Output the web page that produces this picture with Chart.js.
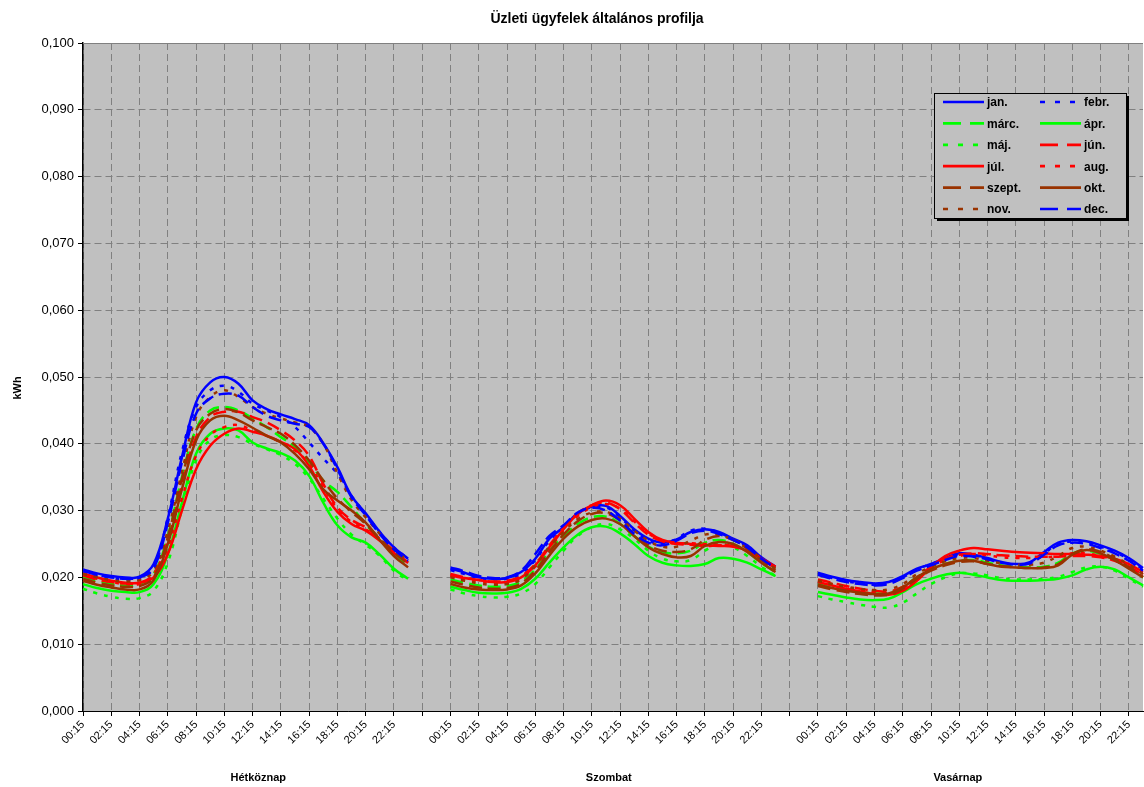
<!DOCTYPE html>
<html>
<head>
<meta charset="utf-8">
<script src="https://cdn.jsdelivr.net/npm/chart.js@4.4.1/dist/chart.umd.min.js"></script>
<style>
    html, body { margin: 0; padding: 0; background: #ffffff; overflow: hidden; }
    canvas { display: block; }
</style>
</head>
<body>
<canvas id="profileChart" width="1144" height="787"></canvas>
<script>
// hourly points for each day: [hétköznap, szombat, vasárnap]
const hours = ["00:15", "01:15", "02:15", "03:15", "04:15", "05:15", "06:15", "07:15", "08:15", "09:15", "10:15", "11:15",
    "12:15", "13:15", "14:15", "15:15", "16:15", "17:15", "18:15", "19:15", "20:15", "21:15", "22:15", "23:15"];
const days = ["Hétköznap", "Szombat", "Vasárnap"];
const yTicks = [0, 0.01, 0.02, 0.03, 0.04, 0.05, 0.06, 0.07, 0.08, 0.09, 0.1];

const jan = [
    [0.0212, 0.0206, 0.0202, 0.0200, 0.0201, 0.0220, 0.0288, 0.0380, 0.0462, 0.0492, 0.0500, 0.0490, 0.0465, 0.0452, 0.0444, 0.0437, 0.0428, 0.0401, 0.0365, 0.0322, 0.0296, 0.0268, 0.0245, 0.0228],
    [0.0213, 0.0207, 0.0200, 0.0198, 0.0199, 0.0208, 0.0228, 0.0258, 0.0275, 0.0296, 0.0306, 0.0307, 0.0292, 0.0272, 0.0258, 0.0252, 0.0257, 0.0268, 0.0272, 0.0268, 0.0258, 0.0248, 0.0230, 0.0216],
    [0.0207, 0.0201, 0.0196, 0.0193, 0.0191, 0.0193, 0.0202, 0.0213, 0.0220, 0.0229, 0.0236, 0.0234, 0.0229, 0.0223, 0.0220, 0.0223, 0.0238, 0.0252, 0.0256, 0.0254, 0.0248, 0.0240, 0.0229, 0.0214]
];
const febr = [
    [0.0208, 0.0203, 0.0199, 0.0197, 0.0198, 0.0215, 0.0290, 0.0388, 0.0455, 0.0480, 0.0487, 0.0478, 0.0460, 0.0450, 0.0440, 0.0425, 0.0402, 0.0378, 0.0355, 0.0322, 0.0295, 0.0268, 0.0245, 0.0228],
    [0.0211, 0.0205, 0.0199, 0.0197, 0.0198, 0.0206, 0.0226, 0.0255, 0.0275, 0.0295, 0.0305, 0.0305, 0.0290, 0.0270, 0.0255, 0.0250, 0.0258, 0.0270, 0.0273, 0.0267, 0.0257, 0.0246, 0.0228, 0.0214],
    [0.0205, 0.0199, 0.0194, 0.0191, 0.0189, 0.0191, 0.0200, 0.0212, 0.0220, 0.0228, 0.0234, 0.0233, 0.0228, 0.0222, 0.0219, 0.0222, 0.0236, 0.0250, 0.0254, 0.0252, 0.0246, 0.0238, 0.0227, 0.0212]
];
const marc = [
    [0.0200, 0.0195, 0.0190, 0.0188, 0.0190, 0.0205, 0.0262, 0.0350, 0.0422, 0.0450, 0.0455, 0.0450, 0.0438, 0.0425, 0.0410, 0.0395, 0.0372, 0.0345, 0.0328, 0.0305, 0.0280, 0.0256, 0.0235, 0.0215],
    [0.0197, 0.0192, 0.0188, 0.0186, 0.0187, 0.0194, 0.0212, 0.0240, 0.0262, 0.0280, 0.0290, 0.0291, 0.0280, 0.0262, 0.0246, 0.0238, 0.0236, 0.0240, 0.0252, 0.0256, 0.0250, 0.0238, 0.0222, 0.0208],
    [0.0190, 0.0185, 0.0181, 0.0178, 0.0176, 0.0177, 0.0186, 0.0200, 0.0212, 0.0220, 0.0225, 0.0226, 0.0222, 0.0218, 0.0216, 0.0215, 0.0216, 0.0222, 0.0236, 0.0240, 0.0235, 0.0226, 0.0214, 0.0200]
];
const apr = [
    [0.0190, 0.0184, 0.0180, 0.0178, 0.0178, 0.0190, 0.0235, 0.0312, 0.0385, 0.0415, 0.0423, 0.0420, 0.0402, 0.0393, 0.0386, 0.0375, 0.0352, 0.0312, 0.0278, 0.0260, 0.0252, 0.0234, 0.0213, 0.0198],
    [0.0186, 0.0181, 0.0177, 0.0176, 0.0177, 0.0183, 0.0198, 0.0222, 0.0245, 0.0264, 0.0275, 0.0276, 0.0266, 0.0250, 0.0232, 0.0222, 0.0218, 0.0217, 0.0220, 0.0229, 0.0228, 0.0222, 0.0212, 0.0202],
    [0.0178, 0.0174, 0.0170, 0.0167, 0.0166, 0.0168, 0.0178, 0.0190, 0.0198, 0.0204, 0.0207, 0.0204, 0.0200, 0.0196, 0.0195, 0.0195, 0.0196, 0.0198, 0.0203, 0.0212, 0.0216, 0.0212, 0.0200, 0.0188]
];
const maj = [
    [0.0183, 0.0176, 0.0171, 0.0168, 0.0169, 0.0180, 0.0222, 0.0302, 0.0375, 0.0406, 0.0413, 0.0410, 0.0400, 0.0392, 0.0383, 0.0370, 0.0348, 0.0318, 0.0288, 0.0264, 0.0249, 0.0232, 0.0210, 0.0195],
    [0.0182, 0.0176, 0.0172, 0.0170, 0.0171, 0.0176, 0.0190, 0.0215, 0.0240, 0.0262, 0.0275, 0.0280, 0.0272, 0.0258, 0.0240, 0.0228, 0.0224, 0.0226, 0.0240, 0.0250, 0.0245, 0.0232, 0.0216, 0.0202],
    [0.0172, 0.0167, 0.0163, 0.0159, 0.0156, 0.0155, 0.0162, 0.0176, 0.0190, 0.0200, 0.0206, 0.0206, 0.0203, 0.0199, 0.0197, 0.0197, 0.0198, 0.0201, 0.0208, 0.0215, 0.0216, 0.0210, 0.0198, 0.0186]
];
const jun = [
    [0.0203, 0.0197, 0.0193, 0.0191, 0.0192, 0.0205, 0.0255, 0.0338, 0.0410, 0.0440, 0.0448, 0.0448, 0.0440, 0.0432, 0.0420, 0.0405, 0.0382, 0.0340, 0.0305, 0.0286, 0.0275, 0.0258, 0.0240, 0.0222],
    [0.0205, 0.0200, 0.0196, 0.0194, 0.0195, 0.0202, 0.0220, 0.0248, 0.0274, 0.0296, 0.0308, 0.0312, 0.0302, 0.0282, 0.0264, 0.0254, 0.0250, 0.0249, 0.0247, 0.0248, 0.0247, 0.0240, 0.0227, 0.0214],
    [0.0197, 0.0192, 0.0187, 0.0183, 0.0180, 0.0179, 0.0186, 0.0200, 0.0216, 0.0228, 0.0234, 0.0236, 0.0235, 0.0233, 0.0232, 0.0231, 0.0231, 0.0231, 0.0232, 0.0232, 0.0230, 0.0225, 0.0216, 0.0204]
];
const jul = [
    [0.0206, 0.0200, 0.0195, 0.0192, 0.0192, 0.0200, 0.0235, 0.0300, 0.0362, 0.0397, 0.0415, 0.0423, 0.0418, 0.0412, 0.0403, 0.0392, 0.0367, 0.0328, 0.0298, 0.0280, 0.0270, 0.0255, 0.0236, 0.0222],
    [0.0203, 0.0199, 0.0196, 0.0193, 0.0193, 0.0200, 0.0218, 0.0245, 0.0272, 0.0295, 0.0308, 0.0315, 0.0308, 0.0288, 0.0268, 0.0256, 0.0252, 0.0250, 0.0248, 0.0247, 0.0246, 0.0240, 0.0228, 0.0216],
    [0.0193, 0.0188, 0.0183, 0.0179, 0.0175, 0.0174, 0.0180, 0.0195, 0.0215, 0.0232, 0.0240, 0.0244, 0.0242, 0.0240, 0.0238, 0.0237, 0.0236, 0.0235, 0.0235, 0.0234, 0.0232, 0.0228, 0.0220, 0.0208]
];
const aug = [
    [0.0204, 0.0198, 0.0193, 0.0190, 0.0190, 0.0202, 0.0245, 0.0318, 0.0382, 0.0413, 0.0425, 0.0428, 0.0420, 0.0412, 0.0402, 0.0390, 0.0370, 0.0335, 0.0302, 0.0283, 0.0272, 0.0258, 0.0240, 0.0222],
    [0.0202, 0.0197, 0.0194, 0.0192, 0.0192, 0.0199, 0.0216, 0.0243, 0.0270, 0.0292, 0.0305, 0.0310, 0.0303, 0.0284, 0.0266, 0.0255, 0.0251, 0.0251, 0.0250, 0.0249, 0.0247, 0.0241, 0.0229, 0.0216],
    [0.0195, 0.0190, 0.0185, 0.0181, 0.0178, 0.0177, 0.0184, 0.0198, 0.0214, 0.0226, 0.0232, 0.0235, 0.0233, 0.0230, 0.0229, 0.0229, 0.0230, 0.0232, 0.0236, 0.0236, 0.0232, 0.0226, 0.0216, 0.0204]
];
const szept = [
    [0.0198, 0.0192, 0.0188, 0.0186, 0.0187, 0.0200, 0.0260, 0.0348, 0.0420, 0.0445, 0.0452, 0.0447, 0.0435, 0.0425, 0.0415, 0.0398, 0.0375, 0.0345, 0.0318, 0.0298, 0.0280, 0.0258, 0.0238, 0.0220],
    [0.0194, 0.0189, 0.0185, 0.0183, 0.0184, 0.0191, 0.0210, 0.0238, 0.0264, 0.0284, 0.0295, 0.0296, 0.0285, 0.0265, 0.0248, 0.0240, 0.0238, 0.0242, 0.0256, 0.0262, 0.0256, 0.0243, 0.0226, 0.0211],
    [0.0187, 0.0182, 0.0178, 0.0175, 0.0173, 0.0174, 0.0183, 0.0198, 0.0210, 0.0218, 0.0223, 0.0224, 0.0220, 0.0217, 0.0215, 0.0214, 0.0215, 0.0220, 0.0235, 0.0242, 0.0238, 0.0228, 0.0215, 0.0201]
];
const okt = [
    [0.0195, 0.0189, 0.0185, 0.0182, 0.0182, 0.0196, 0.0250, 0.0332, 0.0405, 0.0435, 0.0442, 0.0435, 0.0424, 0.0412, 0.0402, 0.0385, 0.0362, 0.0332, 0.0315, 0.0300, 0.0282, 0.0256, 0.0232, 0.0215],
    [0.0190, 0.0185, 0.0182, 0.0181, 0.0182, 0.0188, 0.0206, 0.0233, 0.0258, 0.0276, 0.0286, 0.0288, 0.0280, 0.0262, 0.0245, 0.0235, 0.0230, 0.0232, 0.0247, 0.0253, 0.0250, 0.0238, 0.0222, 0.0208],
    [0.0189, 0.0184, 0.0180, 0.0177, 0.0175, 0.0176, 0.0185, 0.0200, 0.0212, 0.0220, 0.0225, 0.0225, 0.0220, 0.0216, 0.0215, 0.0214, 0.0214, 0.0218, 0.0234, 0.0241, 0.0236, 0.0226, 0.0213, 0.0200]
];
const nov = [
    [0.0205, 0.0200, 0.0196, 0.0194, 0.0196, 0.0210, 0.0270, 0.0358, 0.0440, 0.0470, 0.0480, 0.0470, 0.0455, 0.0445, 0.0438, 0.0432, 0.0425, 0.0400, 0.0356, 0.0316, 0.0290, 0.0265, 0.0242, 0.0225],
    [0.0200, 0.0195, 0.0191, 0.0189, 0.0190, 0.0197, 0.0218, 0.0246, 0.0268, 0.0287, 0.0297, 0.0298, 0.0288, 0.0270, 0.0255, 0.0246, 0.0246, 0.0255, 0.0264, 0.0264, 0.0256, 0.0245, 0.0228, 0.0213],
    [0.0195, 0.0190, 0.0186, 0.0183, 0.0181, 0.0182, 0.0190, 0.0205, 0.0216, 0.0224, 0.0229, 0.0229, 0.0225, 0.0221, 0.0219, 0.0219, 0.0222, 0.0232, 0.0244, 0.0246, 0.0240, 0.0231, 0.0219, 0.0205]
];
const dec = [
    [0.0210, 0.0204, 0.0200, 0.0198, 0.0200, 0.0214, 0.0282, 0.0372, 0.0445, 0.0468, 0.0475, 0.0472, 0.0455, 0.0442, 0.0435, 0.0430, 0.0425, 0.0400, 0.0362, 0.0320, 0.0293, 0.0265, 0.0242, 0.0225],
    [0.0215, 0.0209, 0.0202, 0.0199, 0.0200, 0.0210, 0.0235, 0.0262, 0.0278, 0.0297, 0.0304, 0.0300, 0.0285, 0.0265, 0.0252, 0.0248, 0.0255, 0.0266, 0.0270, 0.0265, 0.0256, 0.0245, 0.0228, 0.0214],
    [0.0204, 0.0198, 0.0193, 0.0190, 0.0188, 0.0190, 0.0199, 0.0210, 0.0218, 0.0226, 0.0232, 0.0231, 0.0227, 0.0222, 0.0219, 0.0221, 0.0234, 0.0248, 0.0252, 0.0250, 0.0244, 0.0236, 0.0225, 0.0210]
];

const months = ["jan.", "febr.", "márc.", "ápr.", "máj.", "jún.", "júl.", "aug.", "szept.", "okt.", "nov.", "dec."];
const monthData = [jan, febr, marc, apr, maj, jun, jul, aug, szept, okt, nov, dec];

const BLUE = "#0000ff";
const GREEN = "#00ff00";
const RED = "#ff0000";
const BROWN = "#993300";
const lineColors = [BLUE, BLUE, GREEN, GREEN, GREEN, RED, RED, RED, BROWN, BROWN, BROWN, BLUE];
const lineKinds = ["solid", "dot", "dash", "solid", "dot", "dash", "solid", "dot", "dash", "solid", "dot", "dash"];

const plotDash = { solid: [], dash: [13, 6], dot: [4, 7] };
const legendDash = { solid: [], dash: [18, 9], dot: [5, 10] };

const FONT = "'Liberation Sans', Arial, sans-serif";
const GAP = 2;

// category list: three days with a two-hour blank between them
const categories = [];
days.forEach((d, i) => {
    if (i > 0) {
        for (let g = 0; g < GAP; g++) categories.push("");
    }
    hours.forEach(h => categories.push(h));
});

function joinDays(parts) {
    const out = [];
    parts.forEach((p, i) => {
        if (i > 0) {
            for (let g = 0; g < GAP; g++) out.push(null);
        }
        p.forEach(v => out.push(v));
    });
    return out;
}

// a tick every two hours, also inside the gaps; null drops the tick and its grid line
function isMajor(index) {
    return (index % (hours.length + GAP)) % 2 === 0;
}

const datasets = months.map((m, i) => ({
    label: m,
    data: joinDays(monthData[i]),
    borderColor: lineColors[i],
    backgroundColor: lineColors[i],
    borderWidth: 2.5,
    borderDash: plotDash[lineKinds[i]],
    legendDash: legendDash[lineKinds[i]],
    pointRadius: 0,
    tension: 0.4,
    fill: false,
    spanGaps: false,
    order: months.length - i
}));

const decorations = {
    id: "decorations",
    beforeDraw(chart) {
        const { ctx, chartArea: a } = chart;
        ctx.save();
        ctx.fillStyle = "#ffffff";
        ctx.fillRect(0, 0, chart.width, chart.height);
        ctx.fillStyle = "#c0c0c0";
        ctx.fillRect(a.left, a.top, a.right - a.left, a.bottom - a.top);
        ctx.restore();
    },
    beforeDatasetsDraw(chart) {
        const { ctx, chartArea: a } = chart;
        ctx.save();
        ctx.strokeStyle = "#808080";
        ctx.lineWidth = 1;
        ctx.beginPath();
        ctx.moveTo(a.left, a.top + 0.5);
        ctx.lineTo(a.right, a.top + 0.5);
        ctx.stroke();
        ctx.restore();
    },
    afterDraw(chart) {
        const { ctx } = chart;
        const xs = chart.scales.x;
        ctx.save();
        ctx.fillStyle = "#000000";
        ctx.textBaseline = "middle";
        ctx.textAlign = "center";

        ctx.font = "bold 14px " + FONT;
        ctx.fillText("Üzleti ügyfelek általános profilja", 597, 19);

        ctx.font = "bold 11px " + FONT;
        const dayCentres = [12.4, 37.2, 61.9];
        days.forEach((d, i) => {
            ctx.fillText(d, xs.getPixelForValue(dayCentres[i]), 778);
        });

        ctx.save();
        ctx.translate(18, 388);
        ctx.rotate(-Math.PI / 2);
        ctx.fillText("kWh", 0, 0);
        ctx.restore();

        // legend box
        const bx = 934, by = 93, bw = 192, bh = 125;
        ctx.fillStyle = "#000000";
        ctx.fillRect(bx + 3, by + 3, bw, bh);
        ctx.fillStyle = "#c0c0c0";
        ctx.fillRect(bx, by, bw, bh);
        ctx.strokeStyle = "#000000";
        ctx.lineWidth = 1;
        ctx.strokeRect(bx + 0.5, by + 0.5, bw, bh);

        ctx.textAlign = "left";
        ctx.font = "bold 12px " + FONT;
        chart.data.datasets.forEach((ds, k) => {
            const row = Math.floor(k / 2);
            const col = k % 2;
            const y = 102 + row * 21.4;
            const x0 = 943 + col * 97;
            ctx.save();
            ctx.strokeStyle = ds.borderColor;
            ctx.lineWidth = 2.7;
            ctx.setLineDash(ds.legendDash);
            ctx.beginPath();
            ctx.moveTo(x0, y);
            ctx.lineTo(x0 + 41, y);
            ctx.stroke();
            ctx.restore();
            ctx.fillStyle = "#000000";
            ctx.fillText(ds.label, x0 + 44, y + 1);
        });
        ctx.restore();
    }
};

new Chart(document.getElementById("profileChart"), {
    type: "line",
    data: {
        labels: categories,
        datasets
    },
    options: {
        responsive: false,
        animation: false,
        devicePixelRatio: 1,
        layout: {
            padding: { top: 43, right: 1, left: 0, bottom: 0 }
        },
        plugins: {
            legend: { display: false },
            tooltip: { enabled: false },
            title: { display: false }
        },
        scales: {
            x: {
                type: "category",
                offset: false,
                afterFit(scale) {
                    scale.height = 76;
                    scale.paddingLeft = 0;
                    scale.paddingRight = 0;
                },
                grid: {
                    color: "#808080",
                    lineWidth: 1,
                    tickLength: 5,
                    tickColor: "#000000",
                    tickWidth: 1
                },
                border: {
                    display: true,
                    color: "#000000",
                    width: 1,
                    dash: [7, 4]
                },
                ticks: {
                    autoSkip: false,
                    minRotation: 45,
                    maxRotation: 45,
                    padding: 2,
                    color: "#000000",
                    font: { family: FONT, size: 11 },
                    callback(value, index) {
                        return isMajor(index) ? categories[index] : null;
                    }
                }
            },
            y: {
                min: 0,
                max: 0.1,
                afterFit(scale) {
                    scale.width = 83;
                },
                afterBuildTicks(scale) {
                    scale.ticks = yTicks.map(v => ({ value: v }));
                },
                grid: {
                    color: "#808080",
                    lineWidth: 1,
                    tickLength: 5,
                    tickColor: "#000000",
                    tickWidth: 1
                },
                border: {
                    display: true,
                    color: "#000000",
                    width: 1.5,
                    dash: [7, 4]
                },
                ticks: {
                    padding: 4,
                    color: "#000000",
                    font: { family: FONT, size: 13 },
                    callback: value => value.toFixed(3).replace(".", ",")
                }
            }
        }
    },
    plugins: [decorations]
});
</script>
</body>
</html>
